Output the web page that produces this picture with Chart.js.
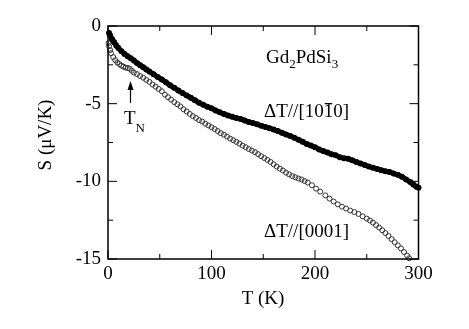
<!DOCTYPE html>
<html>
<head>
<meta charset="utf-8">
<script src="https://cdn.jsdelivr.net/npm/chart.js@4/dist/chart.umd.min.js"></script>
<style>
  html, body { margin: 0; padding: 0; background: #fff; }
  canvas { display: block; }
</style>
</head>
<body>
<canvas id="c" width="469" height="329"></canvas>
<script>
// dT // [10-10]  (filled symbols)
var tA = [1, 2, 4, 6, 8, 10, 13, 16, 19, 22, 25, 28, 31, 34, 37, 40, 44, 48, 52, 56, 60, 64, 68, 72, 76, 80,
  84, 88, 92, 96, 100, 104, 108, 112, 116, 120, 124, 128, 132, 136, 140, 144, 148, 152, 156, 160, 164, 168,
  172, 176, 180, 184, 188, 192, 196, 200, 204, 208, 212, 216, 220, 224, 228, 232, 236, 240, 244, 248, 252,
  256, 260, 264, 268, 272, 276, 280, 284, 288, 292, 295, 298, 300];
var sA = [-0.45, -0.6, -0.85, -1.05, -1.25, -1.42, -1.62, -1.8, -1.95, -2.08, -2.22, -2.38, -2.52, -2.65,
  -2.8, -2.93, -3.1, -3.28, -3.45, -3.62, -3.82, -3.98, -4.16, -4.32, -4.47, -4.62, -4.78, -4.94, -5.07,
  -5.2, -5.3, -5.44, -5.56, -5.66, -5.76, -5.85, -5.93, -5.98, -6.08, -6.18, -6.25, -6.33, -6.42, -6.5,
  -6.58, -6.67, -6.76, -6.88, -6.98, -7.08, -7.2, -7.32, -7.45, -7.6, -7.7, -7.8, -7.95, -8.05, -8.15,
  -8.25, -8.32, -8.45, -8.52, -8.55, -8.65, -8.75, -8.85, -8.95, -9.05, -9.12, -9.2, -9.28, -9.35, -9.4,
  -9.5, -9.58, -9.7, -9.88, -10.05, -10.2, -10.35, -10.42];

// dT // [0001]  (open symbols)
var tB = [0.5, 1, 2, 3, 5, 7, 9, 11, 13, 15, 17, 19, 21, 23, 25, 28, 31, 34, 37, 40, 43, 46, 49, 52, 55, 58,
  61, 64, 67, 70, 73, 76, 79, 82, 85, 88, 91, 94, 97, 100, 103, 106, 109, 112, 115, 118, 121, 124, 127, 130,
  133, 136, 139, 142, 145, 148, 151, 154, 157, 160, 163, 166, 169, 172, 175, 178, 181, 184, 187, 190, 193,
  197, 201, 205, 210, 214, 218, 222, 226, 230, 234, 238, 242, 246, 250, 253, 256, 259, 262, 265, 268, 271,
  274, 277, 280, 283, 286, 289, 291];
var sB = [-1.1, -1.3, -1.55, -1.75, -2.0, -2.2, -2.35, -2.45, -2.55, -2.62, -2.68, -2.7, -2.75, -2.88, -3.0,
  -3.1, -3.22, -3.33, -3.47, -3.6, -3.77, -3.9, -4.05, -4.2, -4.42, -4.58, -4.74, -4.9, -5.04, -5.18, -5.36,
  -5.5, -5.66, -5.8, -5.92, -6.06, -6.15, -6.29, -6.4, -6.52, -6.63, -6.76, -6.9, -7.0, -7.12, -7.25, -7.35,
  -7.46, -7.57, -7.7, -7.8, -7.92, -8.02, -8.12, -8.25, -8.38, -8.5, -8.62, -8.75, -8.9, -9.05, -9.18, -9.3,
  -9.44, -9.55, -9.66, -9.74, -9.82, -9.88, -9.98, -10.08, -10.25, -10.47, -10.66, -10.9, -11.11, -11.3,
  -11.48, -11.63, -11.75, -11.88, -11.98, -12.1, -12.25, -12.4, -12.52, -12.66, -12.82, -12.98, -13.15,
  -13.33, -13.52, -13.72, -13.92, -14.12, -14.32, -14.55, -14.78, -14.95];

var xTicks = [0, 100, 200, 300];
var xMinor = [50, 150, 250];
var yTicks = [0, -5, -10, -15];
var yMinor = [-2.5, -7.5, -12.5];

var serif = '"Liberation Serif", "Times New Roman", serif';

var toPoints = function (xs, ys) {
  var pts = [];
  for (var i = 0; i < xs.length; i++) {
    pts.push({x: xs[i], y: ys[i]});
  }
  return pts;
};

// frame, inward ticks, labels drawn on top of the chart
var decor = {
  id: 'decor',
  afterDraw: function (chart) {
    var ctx = chart.ctx;
    var a = chart.chartArea;
    var xs = chart.scales.x, ys = chart.scales.y;
    ctx.save();
    ctx.strokeStyle = '#000';
    ctx.lineWidth = 1.5;
    ctx.strokeRect(a.left, a.top, a.right - a.left, a.bottom - a.top);

    ctx.lineWidth = 1;
    ctx.beginPath();
    var tick = function (list, len, horiz) {
      list.forEach(function (v) {
        if (horiz) {
          var px = xs.getPixelForValue(v);
          ctx.moveTo(px, a.bottom); ctx.lineTo(px, a.bottom - len);
          ctx.moveTo(px, a.top); ctx.lineTo(px, a.top + len);
        } else {
          var py = ys.getPixelForValue(v);
          ctx.moveTo(a.left, py); ctx.lineTo(a.left + len, py);
          ctx.moveTo(a.right, py); ctx.lineTo(a.right - len, py);
        }
      });
    };
    tick(xTicks, 9, true);
    tick(xMinor, 5, true);
    tick(yTicks, 9, false);
    tick(yMinor, 5, false);
    ctx.stroke();

    ctx.fillStyle = '#000';
    ctx.textBaseline = 'alphabetic';
    ctx.textAlign = 'left';
    var big = '19px ' + serif, small = '13px ' + serif;

    // Gd2PdSi3
    var x = 266, w;
    ctx.font = big; ctx.fillText('Gd', x, 63); x += ctx.measureText('Gd').width;
    ctx.font = small; ctx.fillText('2', x, 68); x += ctx.measureText('2').width;
    ctx.font = big; ctx.fillText('PdSi', x, 63); x += ctx.measureText('PdSi').width;
    ctx.font = small; ctx.fillText('3', x, 68);

    // dT//[10-10] with bar over the second 1
    ctx.font = big;
    ctx.fillText('\u0394T//[1010]', 264, 117);
    var pre = ctx.measureText('\u0394T//[10').width;
    w = ctx.measureText('1').width;
    ctx.fillRect(264 + pre + 1, 103, w - 2, 1.3);

    ctx.fillText('\u0394T//[0001]', 264, 236.5);

    // T_N with arrow
    ctx.fillText('T', 124, 124);
    x = 124 + ctx.measureText('T').width;
    ctx.font = small; ctx.fillText('N', x, 132);
    ctx.beginPath();
    ctx.moveTo(130.5, 103); ctx.lineTo(130.5, 88);
    ctx.lineWidth = 1.2; ctx.stroke();
    ctx.beginPath();
    ctx.moveTo(130.5, 81); ctx.lineTo(127.5, 90); ctx.lineTo(133.5, 90); ctx.closePath();
    ctx.fill();

    // axis titles
    ctx.font = big;
    ctx.textAlign = 'center';
    ctx.textBaseline = 'middle';
    ctx.fillText('T (K)', 263, 299);
    ctx.translate(46, 135);
    ctx.rotate(-Math.PI / 2);
    ctx.fillText('S (\u03bcV/K)', 0, 0);
    ctx.restore();
  }
};

new Chart(document.getElementById('c').getContext('2d'), {
  type: 'scatter',
  data: {
    datasets: [
      {
        label: '[10-10]',
        data: toPoints(tA, sA),
        showLine: true,
        borderColor: '#000',
        borderWidth: 5,
        backgroundColor: '#000',
        pointRadius: 3,
        pointBorderWidth: 0,
        clip: false
      },
      {
        label: '[0001]',
        data: toPoints(tB, sB),
        showLine: false,
        borderColor: '#333',
        backgroundColor: 'rgba(255,255,255,0)',
        pointRadius: 2.5,
        pointBorderWidth: 1,
        clip: false
      }
    ]
  },
  options: {
    responsive: false,
    animation: false,
    devicePixelRatio: 1,
    layout: {padding: {left: 0, right: 50.5, top: 26, bottom: 0}},
    plugins: {legend: {display: false}, tooltip: {enabled: false}},
    scales: {
      x: {
        type: 'linear',
        min: 0,
        max: 300,
        grid: {display: false, drawTicks: false},
        border: {display: false},
        afterBuildTicks: function (scale) {
          scale.ticks = xTicks.map(function (v) { return {value: v}; });
        },
        afterFit: function (scale) { scale.height = 70; },
        ticks: {color: '#000', padding: 4, maxRotation: 0, font: {family: serif, size: 19}}
      },
      y: {
        type: 'linear',
        min: -15,
        max: 0,
        grid: {display: false, drawTicks: false},
        border: {display: false},
        afterBuildTicks: function (scale) {
          scale.ticks = yTicks.map(function (v) { return {value: v}; });
        },
        afterFit: function (scale) { scale.width = 108; },
        ticks: {color: '#000', padding: 7, font: {family: serif, size: 19}}
      }
    }
  },
  plugins: [decor]
});
</script>
</body>
</html>
